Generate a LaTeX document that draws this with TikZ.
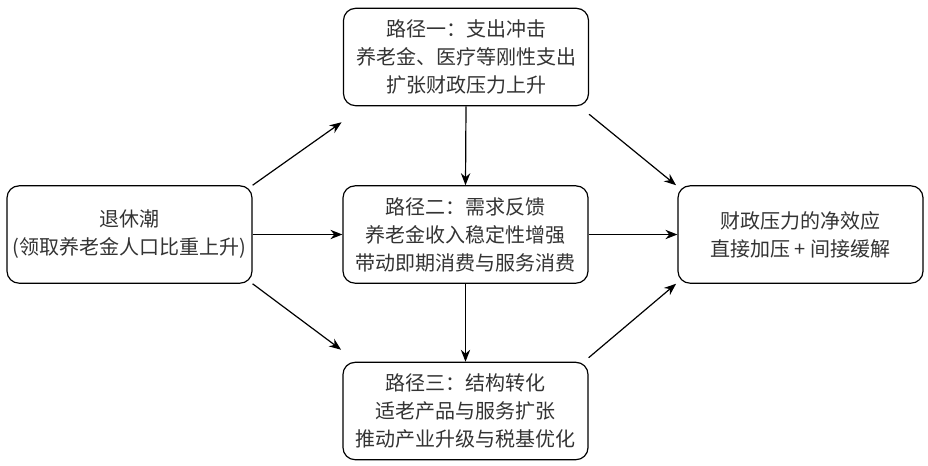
\documentclass[tikz,border=0pt]{standalone}
\usepackage{fontspec}
\setmainfont{Noto Sans CJK SC}
\usetikzlibrary{arrows.meta}
\begin{document}
\begin{tikzpicture}[x=0.75pt,y=-0.75pt,
  box/.style={draw=black, line width=0.9pt, rounded corners=9pt, minimum width=183.75pt, minimum height=73pt, inner sep=0pt, align=center, font=\fontsize{15pt}{21pt}\selectfont, text=black!80},
  arr/.style={-{Stealth[length=9pt,width=7pt]}, line width=0.9pt}]
\useasboundingbox (0,0) rectangle (928,465);
\node[box] (L) at (129.5,234.5) {退休潮\\(领取养老金人口比重上升)};
\node[box] (T) at (466,57) {路径一：支出冲击\\养老金、医疗等刚性支出\\扩张财政压力上升};
\node[box] (M) at (465.5,234.5) {路径二：需求反馈\\养老金收入稳定性增强\\带动即期消费与服务消费};
\node[box] (B) at (465.5,411) {路径三：结构转化\\适老产品与服务扩张\\推动产业升级与税基优化};
\node[box] (R) at (800.5,234.5) {财政压力的净效应\\直接加压 + 间接缓解};
\draw[arr] (L.north east) -- ([xshift=-1pt,yshift=-12pt]T.south west);
\draw[arr] (L.east) -- (M.west);
\draw[arr] (L.south east) -- ([xshift=-1pt,yshift=9pt]B.north west);
\draw[arr] (T.south) -- (M.north);
\draw[arr] (M.south) -- (B.north);
\draw[arr] ([yshift=-6pt]T.south east) -- ([xshift=-1pt]R.north west);
\draw[arr] (M.east) -- (R.west);
\draw[arr] ([yshift=3pt]B.north east) -- ([xshift=-1pt]R.south west);
\end{tikzpicture}
\end{document}
